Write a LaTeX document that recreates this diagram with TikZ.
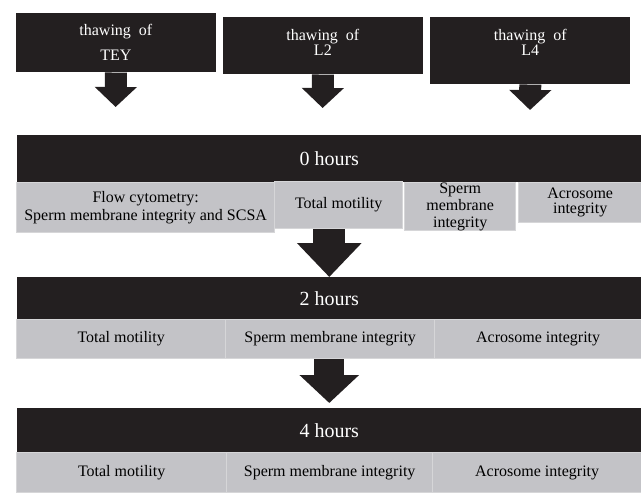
\documentclass[tikz,border=0pt]{standalone}
\usepackage{fontspec}
\setmainfont{Liberation Serif}
\usetikzlibrary{arrows.meta}
\definecolor{boxblack}{RGB}{35,31,32}
\definecolor{cellgray}{RGB}{195,195,199}
\definecolor{cellline}{RGB}{214,214,216}
\tikzset{
	thaw/.style = {fill=boxblack, text=white, align=center, inner sep=0, anchor=north west, minimum width=150pt},
	hours/.style = {fill=boxblack, text=white, inner sep=0, anchor=north west, minimum width=468pt, font=\fontsize{15}{18}\selectfont},
	cell/.style = {fill=cellgray, draw=cellline, line width=1pt, align=center, inner sep=0, anchor=north west, font=\fontsize{12}{13.5}\selectfont},
	thawarrow/.style = {draw=boxblack, line width=16.5pt, -{Triangle[width=30.75pt, length=15pt]}},
	stagearrow/.style = {draw=boxblack, line width=24pt, -{Triangle[width=47pt, length=25.5pt]}},
	laterarrow/.style = {draw=boxblack, line width=22.5pt, -{Triangle[width=43.5pt, length=21pt]}}
}

\begin{document}
\begin{tikzpicture}[x=0.75pt, y=-0.75pt]
	\useasboundingbox (0,0) rectangle (641,492);
	
	% thawing boxes
	\node [thaw, minimum height=44.25pt, font=\fontsize{12}{18.75}\selectfont] (tey) at (15.6,13) {thawing\ \ of\\TEY};
	\node [thaw, minimum height=42.75pt, text depth=4.5pt, font=\fontsize{12}{11.25}\selectfont] (l2) at (222.6,17) {thawing\ \ of\\L2};
	\node [thaw, minimum height=50.25pt, text depth=12pt, font=\fontsize{12}{11.25}\selectfont] (l4) at (430,17) {thawing\ \ of\\L4};
	\coordinate (tip1) at (115.6,107);
	\coordinate (tip2) at (322.6,108);
	\coordinate (tip3) at (530,110);
	
	% 0 hours
	\node [hours, minimum height=35.25pt] (h0) at (17,135) {0 hours};
	\node [cell, minimum width=193.5pt, minimum height=37.5pt] (fc0) at (16,182) {Flow cytometry:\\Sperm membrane integrity and SCSA};
	\node [cell, minimum width=96pt, minimum height=35.25pt] (tm0) at (274,181) {Total motility};
	\node [cell, minimum width=83.25pt, minimum height=34.5pt, font=\fontsize{12}{12.75}\selectfont] (sm0) at (404,182) {Sperm\\membrane\\integrity};
	\node [cell, minimum width=92.25pt, minimum height=30pt, font=\fontsize{12}{11.25}\selectfont] (ac0) at (518,182) {Acrosome\\integrity};
	
	% 2 hours
	\node [hours, minimum height=31.5pt] (h2) at (17,277) {2 hours};
	\node [cell, minimum width=156.75pt, minimum height=29.25pt] (tm2) at (16,319) {Total motility};
	\node [cell, minimum width=156.75pt, minimum height=29.25pt] (sm2) at (225,319) {Sperm membrane integrity};
	\node [cell, minimum width=155.25pt, minimum height=29.25pt] (ac2) at (434,319) {Acrosome integrity};
	
	% 4 hours
	\node [hours, minimum height=33pt] (h4) at (17,408) {4 hours};
	\node [cell, minimum width=157.5pt, minimum height=30pt] (tm4) at (16,452) {Total motility};
	\node [cell, minimum width=154.5pt, minimum height=30pt] (sm4) at (226,452) {Sperm membrane integrity};
	\node [cell, minimum width=156.75pt, minimum height=30pt] (ac4) at (432,452) {Acrosome integrity};
	
	% arrows
	\draw [thawarrow] (tey.south) -- (tip1);
	\draw [thawarrow] (l2.south) -- (tip2);
	\draw [thawarrow] (l4.south) -- (tip3);
	\draw [stagearrow] (tm0.south -| h0.south) -- (h2.north);
	\draw [laterarrow, shorten >=3.75pt] (sm2.south -| h2.south) -- (h4.north);
\end{tikzpicture}
\end{document}
